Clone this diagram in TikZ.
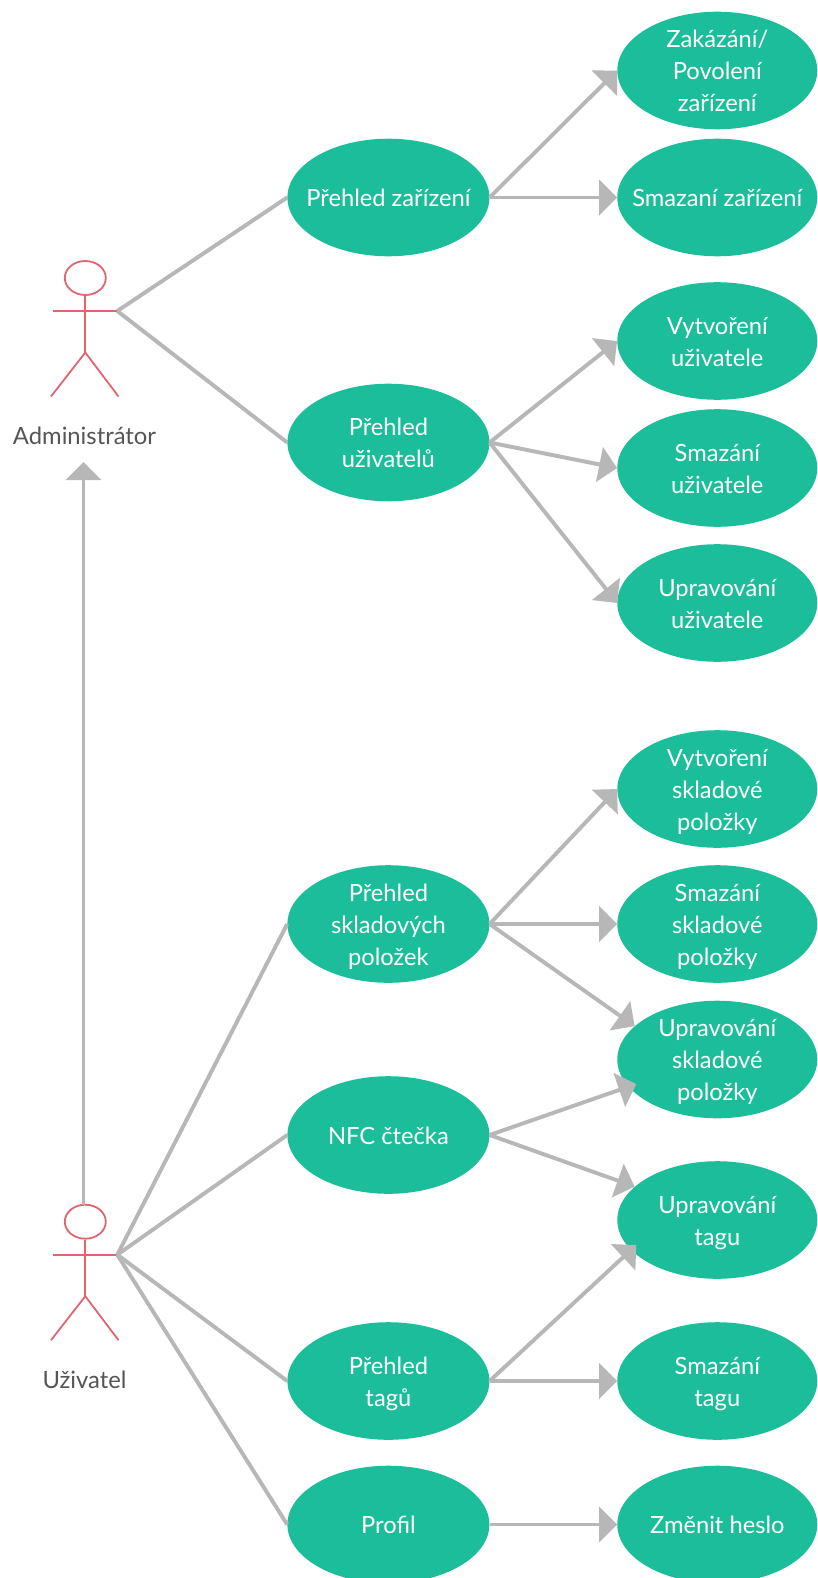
\documentclass[tikz,border=0pt]{standalone}
\usepackage{fontspec}
\setmainfont{Lato}
\usetikzlibrary{shapes.geometric, arrows.meta}

\definecolor{usecasegreen}{HTML}{1CBD9B}
\definecolor{linegray}{HTML}{B7B7B7}
\definecolor{actorred}{HTML}{E0656F}
\definecolor{labelgray}{HTML}{555555}

\newcommand{\casetext}[1]{\rule{0pt}{23.4pt}#1\rule[-5pt]{0pt}{5pt}}

\tikzset{
  usecase/.style={ellipse, fill=usecasegreen, text=white, inner sep=-20pt, align=center,
    minimum height=117.6pt, font=\fontsize{23.7}{32}\selectfont},
  usecase left/.style={usecase, minimum width=202pt},
  usecase right/.style={usecase, minimum width=200pt},
  actor line/.style={draw=actorred, line width=1.8pt},
  actor label/.style={text=labelgray, font=\fontsize{23.8}{28}\selectfont},
  assoc/.style={draw=linegray, line width=3.9pt},
  arrow/.style={assoc, -{Triangle[length=18pt,width=35pt]}}
}

\begin{document}
\begin{tikzpicture}[x=1pt, y=-1pt]

    \useasboundingbox (0,0) rectangle (817,1578);

    \foreach \name/\ypos/\txt in {prehled-zarizeni/197.5/{Přehled zařízení},
        prehled-uzivatelu/442.5/{Přehled\\uživatelů},
        prehled-polozek/924/{Přehled\\skladových\\položek},
        nfc-ctecka/1135/{NFC čtečka},
        prehled-tagu/1381/{Přehled\\tagů},
        profil/1524.5/{Profil}}
      \node [usecase left] (\name) at (388.4,\ypos) {\casetext{\txt}};

    \foreach \name/\ypos/\txt in {zakazani/70.5/{Zakázání/\\Povolení\\zařízení},
        smazani-zarizeni/197.5/{Smazaní zařízení},
        vytvoreni-uzivatele/341/{Vytvoření\\uživatele},
        smazani-uzivatele/468/{Smazání\\uživatele},
        upravovani-uzivatele/603/{Upravování\\uživatele},
        vytvoreni-polozky/789/{Vytvoření\\skladové\\položky},
        smazani-polozky/924/{Smazání\\skladové\\položky},
        upravovani-polozky/1059.5/{Upravování\\skladové\\položky},
        upravovani-tagu/1220/{Upravování\\tagu},
        smazani-tagu/1381/{Smazání\\tagu},
        zmenit-heslo/1524.5/{Změnit heslo}}
      \node [usecase right] (\name) at (717.3,\ypos) {\casetext{\txt}};

    % actors
    \foreach \name/\off/\txt in {admin/0/Administrátor, user/943.7/Uživatel} {
      \node [actor line, ellipse, minimum width=41pt, minimum height=34pt, inner sep=0pt]
        (\name-head) at (85.3,278+\off) {};
      \coordinate (\name-hand) at (117.3,311+\off);
      \coordinate (\name-hip) at (85.3,352.5+\off);
      \draw [actor line] (\name-head) -- (\name-hip);
      \draw [actor line] (53.3,311+\off) -- (\name-hand);
      \draw [actor line] (51,396.5+\off) -- (\name-hip) -- (118.5,396.5+\off);
      \node [actor label] (\name-label) at (84.5,436+\off) {\txt};
    }

    \foreach \s/\t in {admin-hand/prehled-zarizeni, admin-hand/prehled-uzivatelu,
        user-hand/prehled-polozek, user-hand/nfc-ctecka,
        user-hand/prehled-tagu, user-hand/profil}
      \draw [assoc] (\s) -- (\t.west);

    \foreach \s/\t in {prehled-zarizeni/zakazani, prehled-zarizeni/smazani-zarizeni,
        prehled-uzivatelu/vytvoreni-uzivatele, prehled-uzivatelu/smazani-uzivatele,
        prehled-uzivatelu/upravovani-uzivatele,
        prehled-polozek/vytvoreni-polozky, prehled-polozek/smazani-polozky,
        prehled-tagu/smazani-tagu, profil/zmenit-heslo}
      \draw [arrow] (\s.east) -- (\t.west);

    % these two arrows run into the ellipse
    \coordinate (upravovani-polozky-in) at ([xshift=-81pt,yshift=-24.5pt]upravovani-polozky.center);
    \coordinate (upravovani-tagu-in) at ([xshift=-81pt,yshift=-25pt]upravovani-tagu.center);

    \draw [arrow] (prehled-polozek.east) -- (upravovani-polozky.158);
    \draw [arrow] (nfc-ctecka.east) -- (upravovani-polozky-in);
    \draw [arrow] (nfc-ctecka.east) -- (upravovani-tagu.158);
    \draw [arrow] (prehled-tagu.east) -- (upravovani-tagu-in);

    \coordinate (user-top) at (83.5,1205);
    \coordinate (admin-bottom) at (83.5,462);
    \draw [arrow] (user-top) -- (admin-bottom);

\end{tikzpicture}
\end{document}
